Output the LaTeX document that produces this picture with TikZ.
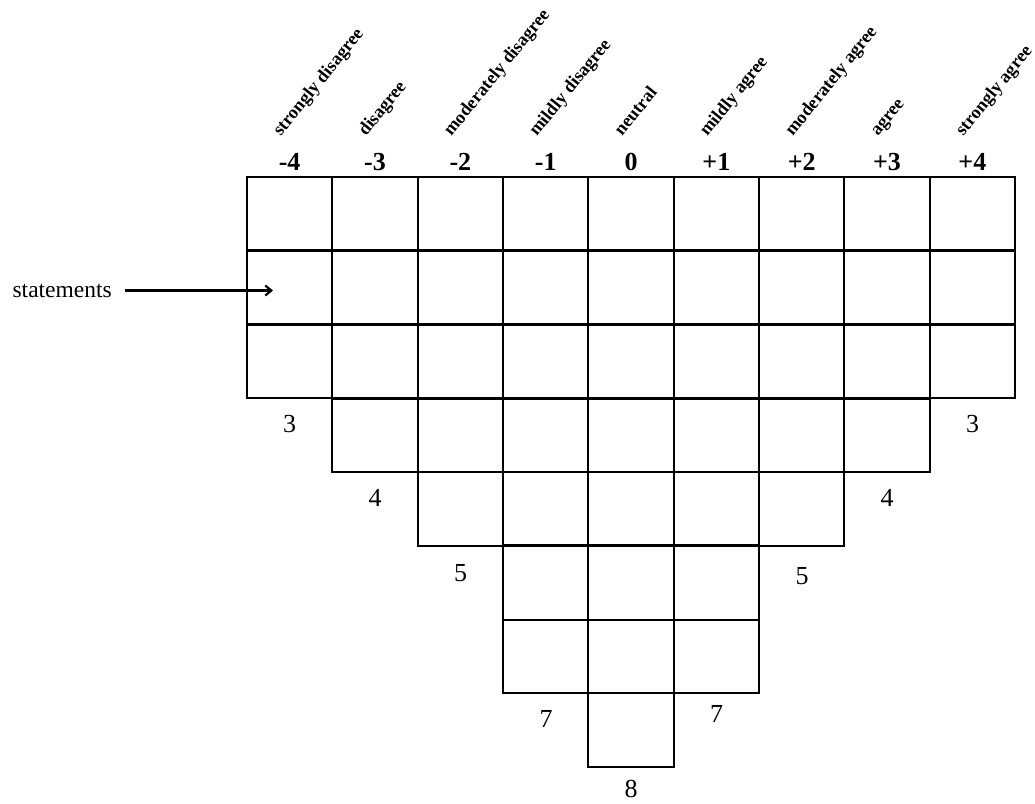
\documentclass[tikz,border=0pt]{standalone}
\usepackage{fontspec}
\setmainfont{Liberation Serif}
\usetikzlibrary{arrows.meta}
\begin{document}
\begin{tikzpicture}[x=1pt,y=-1pt,
  cell/.style={draw,line width=2pt,minimum width=85.33pt,minimum height=73.75pt,inner sep=0pt,outer sep=0pt},
  thickline/.style={line width=2.9pt},
  num/.style={font=\fontsize{26}{28}\selectfont\bfseries,anchor=base,inner sep=0pt},
  lab/.style={font=\fontsize{18.2}{20}\selectfont\bfseries,anchor=base west,rotate=51,inner sep=0pt},
  cnt/.style={font=\fontsize{26}{28}\selectfont,anchor=base,inner sep=0pt},
  stm/.style={font=\fontsize{23.5}{25}\selectfont,anchor=base east,inner sep=0pt},
  arr/.style={line width=2.2pt,-{Straight Barb[length=6pt,width=10pt,line width=2.2pt]}}]
\useasboundingbox (0,0) rectangle (1035,803);
% cells
\foreach \i/\h in {0/3,1/4,2/5,3/7,4/8,5/7,6/5,7/4,8/3}{
  \foreach \j in {1,...,\h}{
    \node[cell] (c\i-\j) at ({247+85.333*(\i+0.5)},{177+73.75*(\j-0.5)}) {};
  }
}
% heavier row rules
\draw[thickline] (c0-1.south west) -- (c8-1.south east);
\draw[thickline] (c0-2.south west) -- (c8-2.south east);
\draw[thickline] (c1-3.south west) -- (c7-3.south east);
\draw[thickline] (c2-4.south west) -- (c6-4.south east);
\draw[thickline] (c3-5.south west) -- (c5-5.south east);
% headers
\foreach \i/\n/\l in {0/-4/strongly disagree,1/-3/disagree,2/-2/moderately disagree,3/-1/mildly disagree,4/0/neutral,5/+1/mildly agree,6/+2/moderately agree,7/+3/agree,8/+4/strongly agree}{
  \node[num] (n\i) at ({247+85.333*(\i+0.5)},170) {\n};
  \node[lab] (l\i) at ({247+85.333*(\i+0.5)-9},137) {\l};
}
% counts
\node[cnt] (k0) at (289.7,432) {3};
\node[cnt] (k1) at (375,506) {4};
\node[cnt] (k2) at (460.5,581) {5};
\node[cnt] (k3) at (546,727) {7};
\node[cnt] (k4) at (631,797) {8};
\node[cnt] (k5) at (716.5,722) {7};
\node[cnt] (k6) at (802,584) {5};
\node[cnt] (k7) at (887,506) {4};
\node[cnt] (k8) at (972.7,432) {3};
% statements
\node[stm] (st) at (112,297) {statements};
\coordinate (aend) at (273,291);
\draw[arr,shorten <=13pt] (st.east) -- (st.east -| aend);
\end{tikzpicture}
\end{document}
